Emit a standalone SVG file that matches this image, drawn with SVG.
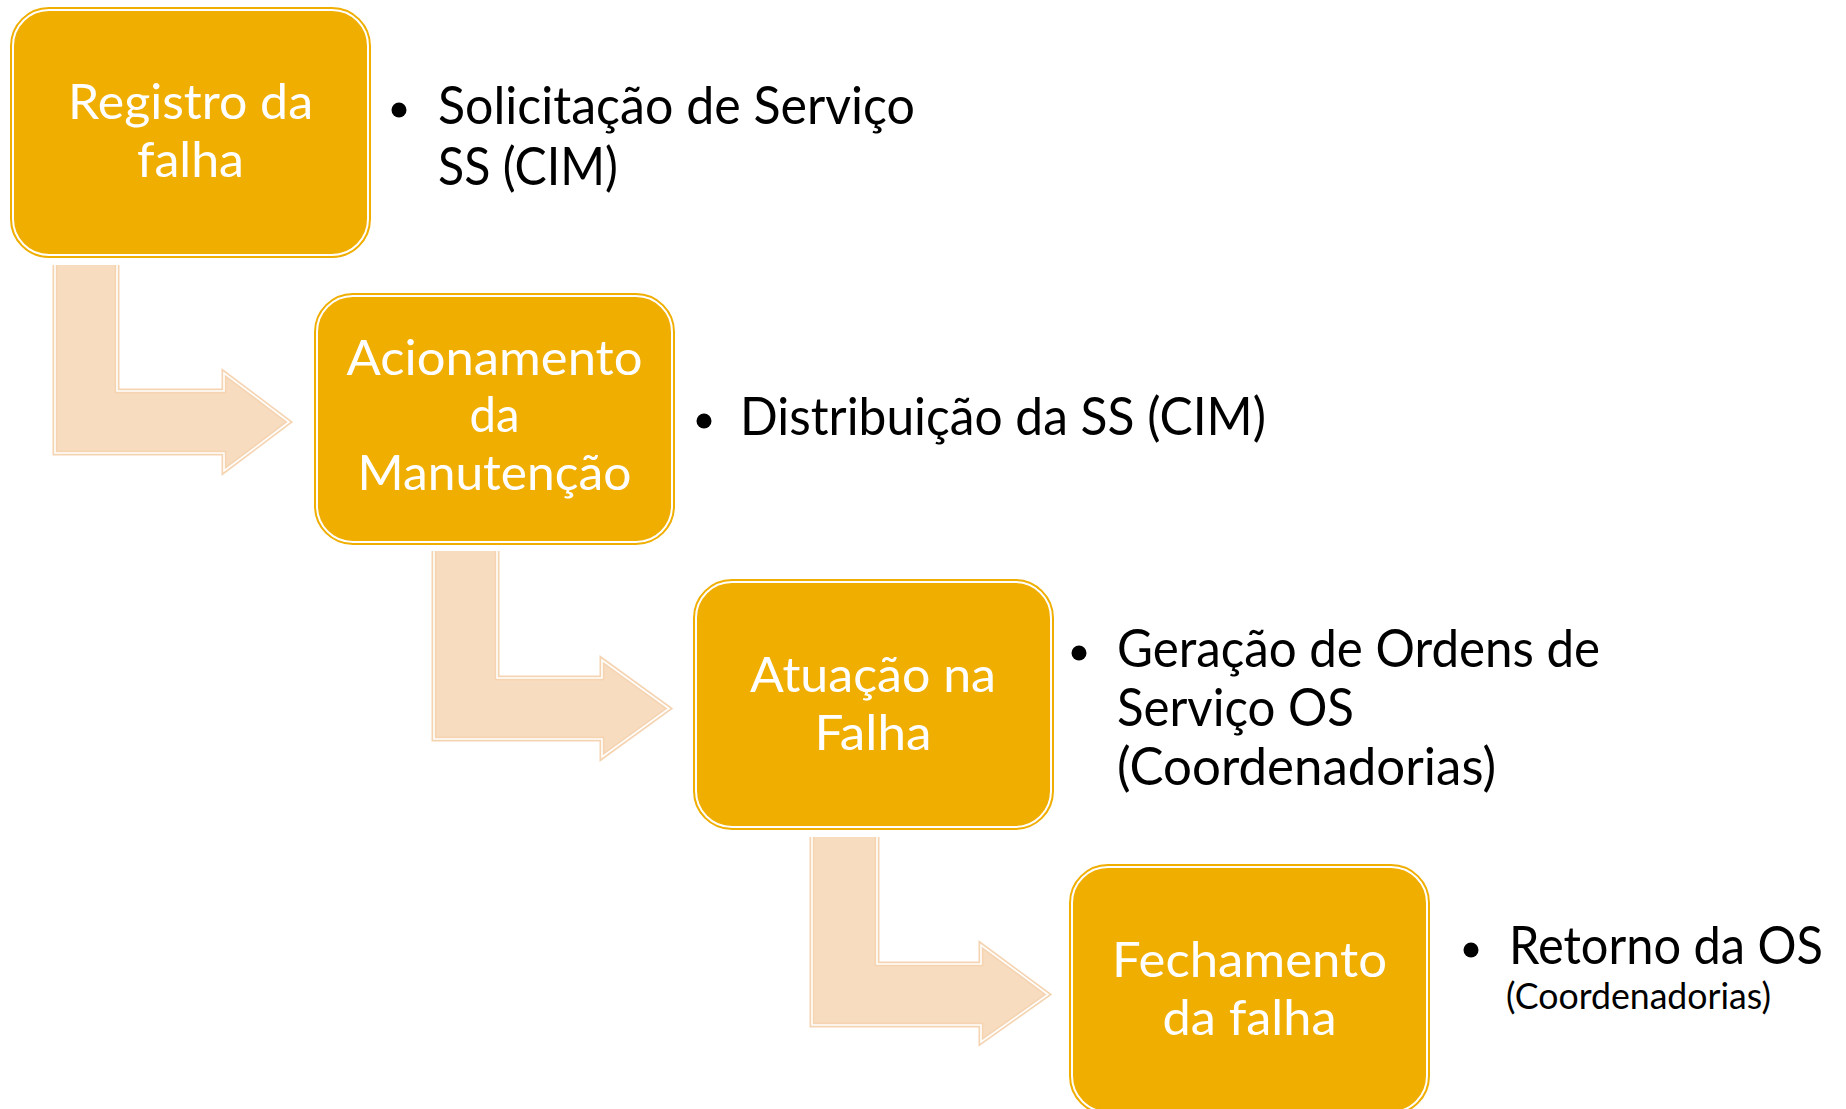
<svg xmlns="http://www.w3.org/2000/svg" width="1846" height="1109" viewBox="0 0 1846 1109">
<style>
.bx{fill:#F0AE00;stroke:#F0AE00;stroke-width:6}
.bxl{fill:none;stroke:#FFFFFF;stroke-width:2}
.af{fill:#F8DCC0;stroke:none}
.ao{fill:none;stroke:#F5D4B2;stroke-width:5;stroke-linejoin:miter}
.al{fill:none;stroke:#FFFFFF;stroke-width:1.6;stroke-linejoin:miter}
.bt{font-family:Lato,"Open Sans","Liberation Sans",sans-serif;font-size:49px;fill:#FFFFFF;text-anchor:middle}
.rt{font-family:Lato,"Open Sans","Liberation Sans",sans-serif;font-size:53px;fill:#000000}
.st{font-family:Lato,"Open Sans","Liberation Sans",sans-serif;font-size:36px;fill:#000000}
.bul{fill:#000000}
</style>
<rect width="1846" height="1109" fill="#FFFFFF"/>
<g id="connectors">
  <g id="arrow1">
    <path class="af" d="M55,265 L55,453 L224,453 L224,471 L289,422 L224,373 L224,391 L117,391 L117,265 Z"/>
    <path class="ao" d="M55,265 L55,453 L224,453 L224,471 L289,422 L224,373 L224,391 L117,391 L117,265"/>
    <path class="al" d="M55,265 L55,453 L224,453 L224,471 L289,422 L224,373 L224,391 L117,391 L117,265"/>
  </g>
  <g id="arrow2">
    <path class="af" d="M434,551 L434,739 L602,739 L602,757 L669,708.5 L602,660 L602,678 L497,678 L497,551 Z"/>
    <path class="ao" d="M434,551 L434,739 L602,739 L602,757 L669,708.5 L602,660 L602,678 L497,678 L497,551"/>
    <path class="al" d="M434,551 L434,739 L602,739 L602,757 L669,708.5 L602,660 L602,678 L497,678 L497,551"/>
  </g>
  <g id="arrow3">
    <path class="af" d="M812,837 L812,1025 L981,1025 L981,1042 L1048,994.5 L981,945 L981,964 L877,964 L877,837 Z"/>
    <path class="ao" d="M812,837 L812,1025 L981,1025 L981,1042 L1048,994.5 L981,945 L981,964 L877,964 L877,837"/>
    <path class="al" d="M812,837 L812,1025 L981,1025 L981,1042 L1048,994.5 L981,945 L981,964 L877,964 L877,837"/>
  </g>
</g>
<g id="node1">
  <rect class="bx" x="13" y="10" width="355" height="245" rx="36"/>
  <rect class="bxl" x="13" y="10" width="355" height="245" rx="36"/>
  <text class="bt" x="190.5" y="119" textLength="245" lengthAdjust="spacingAndGlyphs">Registro da</text>
  <text class="bt" x="190.5" y="177" textLength="107" lengthAdjust="spacingAndGlyphs">falha</text>
</g>
<g id="node2">
  <rect class="bx" x="317" y="296" width="355" height="246" rx="36"/>
  <rect class="bxl" x="317" y="296" width="355" height="246" rx="36"/>
  <text class="bt" x="494.5" y="375" textLength="296" lengthAdjust="spacingAndGlyphs">Acionamento</text>
  <text class="bt" x="494.5" y="432" textLength="50" lengthAdjust="spacingAndGlyphs">da</text>
  <text class="bt" x="494.5" y="490" textLength="274" lengthAdjust="spacingAndGlyphs">Manutenção</text>
</g>
<g id="node3">
  <rect class="bx" x="696" y="582" width="355" height="245" rx="36"/>
  <rect class="bxl" x="696" y="582" width="355" height="245" rx="36"/>
  <text class="bt" x="873" y="692" textLength="246" lengthAdjust="spacingAndGlyphs">Atuação na</text>
  <text class="bt" x="873" y="750" textLength="117" lengthAdjust="spacingAndGlyphs">Falha</text>
</g>
<g id="node4">
  <rect class="bx" x="1072" y="867" width="355" height="245" rx="36"/>
  <rect class="bxl" x="1072" y="867" width="355" height="245" rx="36"/>
  <text class="bt" x="1249.5" y="977" textLength="275" lengthAdjust="spacingAndGlyphs">Fechamento</text>
  <text class="bt" x="1249.5" y="1035" textLength="174" lengthAdjust="spacingAndGlyphs">da falha</text>
</g>
<g id="note1">
  <circle class="bul" cx="399" cy="110" r="7.5"/>
  <text class="rt" x="438" y="124" textLength="477" lengthAdjust="spacingAndGlyphs">Solicitação de Serviço</text>
  <text class="rt" x="438" y="185" textLength="180" lengthAdjust="spacingAndGlyphs">SS (CIM)</text>
</g>
<g id="note2">
  <circle class="bul" cx="704" cy="421" r="7.5"/>
  <text class="rt" x="740" y="435" textLength="526" lengthAdjust="spacingAndGlyphs">Distribuição da SS (CIM)</text>
</g>
<g id="note3">
  <circle class="bul" cx="1079" cy="653" r="7.5"/>
  <text class="rt" x="1117" y="667" textLength="483" lengthAdjust="spacingAndGlyphs">Geração de Ordens de</text>
  <text class="rt" x="1117" y="726" textLength="237" lengthAdjust="spacingAndGlyphs">Serviço OS</text>
  <text class="rt" x="1117" y="785" textLength="379" lengthAdjust="spacingAndGlyphs">(Coordenadorias)</text>
</g>
<g id="note4">
  <circle class="bul" cx="1471" cy="950" r="7.5"/>
  <text class="rt" x="1509" y="964" textLength="314" lengthAdjust="spacingAndGlyphs">Retorno da OS</text>
  <text class="st" x="1506" y="1009" textLength="265" lengthAdjust="spacingAndGlyphs">(Coordenadorias)</text>
</g>
</svg>
